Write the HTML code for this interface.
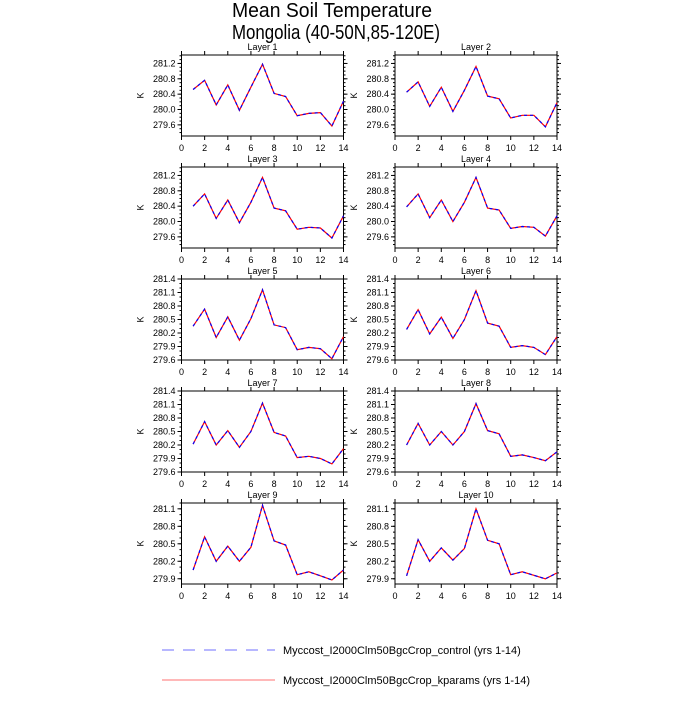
<!DOCTYPE html>
<html><head><style>
body{margin:0;background:#fff;}
svg text{font-family:"Liberation Sans",sans-serif;}
</style></head><body>
<svg id="s" width="700" height="700" xmlns="http://www.w3.org/2000/svg">
<text x="232" y="17" font-size="20" textLength="200" lengthAdjust="spacingAndGlyphs">Mean Soil Temperature</text>
<text x="232" y="39" font-size="20" textLength="208" lengthAdjust="spacingAndGlyphs">Mongolia (40-50N,85-120E)</text>
<line x1="162" y1="650" x2="275" y2="650" stroke="#6f6fff" stroke-width="1" stroke-dasharray="12,9"/>
<text x="283" y="654" font-size="11">Myccost_I2000Clm50BgcCrop_control (yrs 1-14)</text>
<line x1="162" y1="680" x2="275" y2="680" stroke="#ff7070" stroke-width="1"/>
<text x="283" y="684" font-size="11">Myccost_I2000Clm50BgcCrop_kparams (yrs 1-14)</text>
</svg>
<script>
var D=[
[280.52,280.76,280.12,280.64,279.98,280.58,281.18,280.42,280.34,279.84,279.9,279.92,279.57,280.22],
[280.45,280.72,280.08,280.58,279.95,280.5,281.12,280.35,280.28,279.78,279.85,279.85,279.55,280.18],
[280.4,280.72,280.08,280.56,279.97,280.5,281.15,280.35,280.28,279.8,279.85,279.83,279.57,280.15],
[280.38,280.72,280.1,280.56,280.0,280.5,281.15,280.35,280.3,279.82,279.87,279.85,279.62,280.15],
[280.35,280.73,280.1,280.56,280.04,280.52,281.16,280.38,280.32,279.83,279.88,279.85,279.63,280.12],
[280.28,280.72,280.18,280.55,280.08,280.5,281.14,280.42,280.35,279.88,279.92,279.88,279.72,280.12],
[280.22,280.72,280.2,280.52,280.15,280.5,281.13,280.48,280.4,279.92,279.95,279.9,279.78,280.12],
[280.2,280.68,280.2,280.5,280.2,280.5,281.12,280.52,280.45,279.95,279.98,279.92,279.85,280.05],
[280.05,280.62,280.2,280.46,280.2,280.44,281.16,280.55,280.48,279.97,280.02,279.95,279.88,280.05],
[279.95,280.57,280.2,280.43,280.22,280.42,281.1,280.56,280.5,279.97,280.02,279.96,279.9,280.0]];
var R=[[279.31,281.42,[279.6,280.0,280.4,280.8,281.2],0.1],[279.6,281.4,[279.6,279.9,280.2,280.5,280.8,281.1,281.4],0.1],[279.81,281.2,[279.9,280.2,280.5,280.8,281.1],0.1]];
var h='';
for(var i=0;i<10;i++){
 var col=i%2,row=Math.floor(i/2);
 var L=col?395:181.5,W=162,T=55+row*112,H=81;
 var r=i<4?R[0]:(i<8?R[1]:R[2]);
 var X=function(v){return L+v/14*W;},Y=function(v){return T+H-(v-r[0])/(r[1]-r[0])*H;};
 h+='<text x="'+(L+W/2)+'" y="'+(T-5)+'" font-size="9" text-anchor="middle">Layer '+(i+1)+'</text>';
 h+='<rect x="'+L+'" y="'+T+'" width="'+W+'" height="'+H+'" fill="none" stroke="#000" stroke-width="1"/>';
 for(var x=0;x<=14;x+=2){var px=X(x);
  h+='<line x1="'+px+'" y1="'+T+'" x2="'+px+'" y2="'+(T-4)+'" stroke="#000"/><line x1="'+px+'" y1="'+(T+H)+'" x2="'+px+'" y2="'+(T+H+4)+'" stroke="#000"/>';
  h+='<text x="'+px+'" y="'+(T+H+15)+'" font-size="9" text-anchor="middle">'+x+'</text>';}
 for(var m=Math.ceil(r[0]*10);m<=r[1]*10;m++){var py=Y(m/10);
  h+='<line x1="'+L+'" y1="'+py+'" x2="'+(L-2)+'" y2="'+py+'" stroke="#000"/><line x1="'+(L+W)+'" y1="'+py+'" x2="'+(L+W+2)+'" y2="'+py+'" stroke="#000"/>';}
 r[2].forEach(function(t){var py=Y(t);
  h+='<line x1="'+L+'" y1="'+py+'" x2="'+(L-4)+'" y2="'+py+'" stroke="#000"/><line x1="'+(L+W)+'" y1="'+py+'" x2="'+(L+W+4)+'" y2="'+py+'" stroke="#000"/>';
  h+='<text x="'+(L-6)+'" y="'+(py+3)+'" font-size="9" text-anchor="end">'+t.toFixed(1)+'</text>';});
 h+='<text x="'+(L-38)+'" y="'+(T+H/2)+'" font-size="9" text-anchor="middle" transform="rotate(-90 '+(L-38)+' '+(T+H/2)+')">K</text>';
 var p=D[i].map(function(v,k){return X(k+1).toFixed(1)+','+Y(v).toFixed(1);}).join(' ');
 h+='<polyline points="'+p+'" fill="none" stroke="#f00" stroke-width="1.2"/>';
 h+='<polyline points="'+p+'" fill="none" stroke="#00f" stroke-width="1.2" stroke-dasharray="3,3"/>';
}
document.getElementById('s').insertAdjacentHTML('beforeend',h);
</script>
</body></html>
